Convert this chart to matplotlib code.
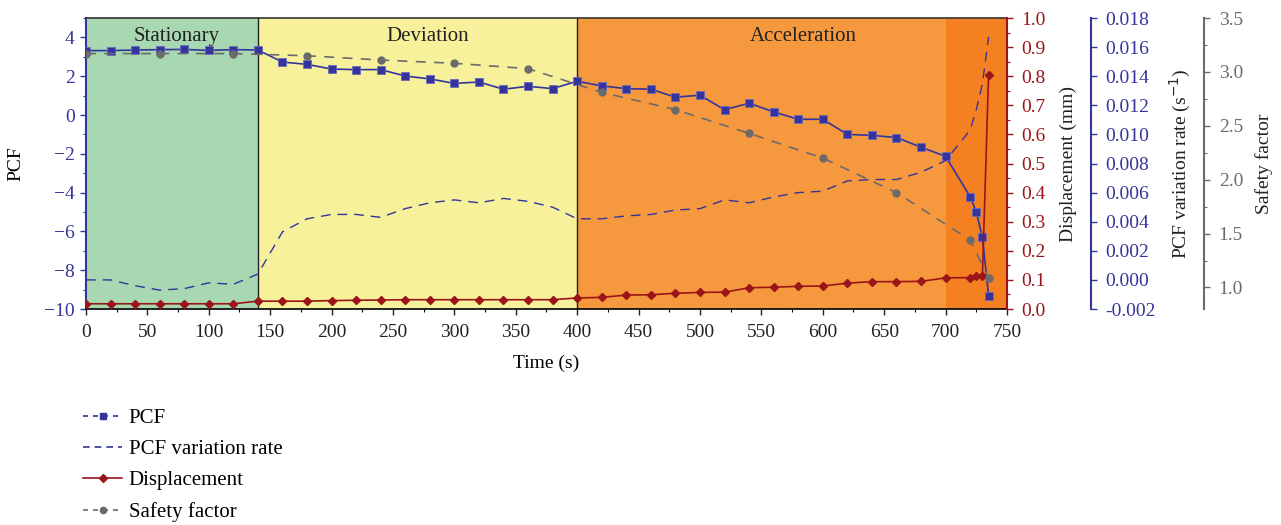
import numpy as np
import matplotlib
matplotlib.use('Agg')
import matplotlib.pyplot as plt
from matplotlib.lines import Line2D
from matplotlib.ticker import MultipleLocator

plt.rcParams['font.family'] = ['Liberation Serif', 'DejaVu Serif']
plt.rcParams['font.size'] = 14

# time stamps (s)
time = [0, 20, 40, 60, 80, 100, 120, 140, 160, 180, 200, 220, 240, 260, 280, 300,
        320, 340, 360, 380, 400, 420, 440, 460, 480, 500, 520, 540, 560, 580, 600,
        620, 640, 660, 680, 700, 720, 725, 730, 735]
pcf = [3.32, 3.32, 3.35, 3.37, 3.38, 3.33, 3.37, 3.35, 2.73, 2.61, 2.37, 2.34, 2.34,
       2.01, 1.86, 1.63, 1.70, 1.33, 1.48, 1.36, 1.74, 1.50, 1.36, 1.33, 0.92, 1.02,
       0.27, 0.61, 0.16, -0.22, -0.22, -1.00, -1.05, -1.16, -1.66, -2.13, -4.21,
       -5.00, -6.31, -9.32]
pcf_rate = [0.0000, 0.0000, -0.0004, -0.0007, -0.0006, -0.0002, -0.0003, 0.0004,
            0.0033, 0.0042, 0.0045, 0.0045, 0.0043, 0.0049, 0.0053, 0.0055, 0.0053,
            0.0056, 0.0054, 0.0050, 0.0042, 0.0042, 0.0044, 0.0045, 0.0048, 0.0049,
            0.0055, 0.0053, 0.0057, 0.0060, 0.0061, 0.0068, 0.0069, 0.0069, 0.0074,
            0.0082, 0.0103, 0.0117, 0.0135, 0.0167]
displacement = [0.018, 0.018, 0.018, 0.018, 0.018, 0.018, 0.018, 0.027, 0.027, 0.027,
                0.029, 0.030, 0.031, 0.032, 0.032, 0.032, 0.032, 0.032, 0.032, 0.032,
                0.038, 0.040, 0.048, 0.049, 0.054, 0.057, 0.058, 0.073, 0.075, 0.078,
                0.079, 0.089, 0.094, 0.094, 0.095, 0.107, 0.108, 0.112, 0.115, 0.805]
sf_time = [0, 60, 120, 180, 240, 300, 360, 420, 480, 540, 600, 660, 720, 735]
safety = [3.17, 3.17, 3.17, 3.15, 3.11, 3.08, 3.03, 2.81, 2.65, 2.43, 2.20, 1.88, 1.44, 1.09]

# stages
stages = ['Stationary', 'Deviation', 'Acceleration']
stage_bounds = [0, 140, 400, 700, 750]
stage_colors = ['#a8d8b2', '#f6f19a', '#f5983e', '#f48022']

blue = '#34349c'
red = '#9b1418'
gray = '#6b6b6b'

fig = plt.figure(figsize=(12.81, 5.25), dpi=100)
ax = fig.add_axes([0.0671, 0.4114, 0.719, 0.5543])

for i in range(4):
    ax.axvspan(stage_bounds[i], stage_bounds[i + 1], color=stage_colors[i], lw=0, zorder=0)
for b in stage_bounds[1:3]:
    ax.axvline(b, color='#222222', lw=1.0, zorder=1)
label_x = [74, 278, 584]
for name, lx in zip(stages, label_x):
    ax.text(lx, 0.935, name, transform=ax.get_xaxis_transform(), ha='center', va='center',
            fontsize=15, color='#222222')

ax.plot(time, pcf, color=blue, lw=1.2, marker='s', ms=5.5, mfc=blue, mec='#6a6ab8',
        mew=0.6, zorder=5)
ax.set_xlim(0, 750)
ax.set_ylim(-10, 5)
ax.set_yticks(np.arange(-10, 5, 2))
ax.yaxis.set_minor_locator(MultipleLocator(1))
ax.xaxis.set_major_locator(MultipleLocator(50))
ax.xaxis.set_minor_locator(MultipleLocator(25))
ax.set_xlabel('Time (s)', fontsize=14, labelpad=10)
ax.set_ylabel('PCF', fontsize=14, labelpad=14)
ax.tick_params(axis='y', colors=blue, which='both', labelsize=14)
ax.tick_params(axis='x', colors='#222222', labelsize=14, pad=6)
ax.tick_params(which='major', direction='out', length=4.5, width=1)
ax.tick_params(which='minor', direction='out', length=2.5, width=0.8)
ax.spines['left'].set_color(blue)
ax.spines['left'].set_linewidth(1.5)
ax.spines['bottom'].set_linewidth(1.2)
ax.spines['top'].set_linewidth(1.2)
ax.spines['top'].set_color('#333333')
ax.spines['right'].set_visible(False)

ax2 = ax.twinx()
ax2.plot(time, displacement, color=red, lw=1.2, marker='D', ms=4.5, zorder=5)
ax2.set_ylim(0, 1.0)
ax2.yaxis.set_major_locator(MultipleLocator(0.1))
ax2.yaxis.set_minor_locator(MultipleLocator(0.05))
ax2.set_ylabel('Displacement (mm)', fontsize=14, labelpad=10)
ax2.tick_params(axis='y', colors=red, which='both', labelsize=14, pad=6)
ax2.tick_params(which='major', direction='out', length=4.5, width=1)
ax2.tick_params(which='minor', direction='out', length=2.5, width=0.8)
ax2.spines['right'].set_color(red)
ax2.spines['right'].set_linewidth(1.5)
for s in ['left', 'top', 'bottom']:
    ax2.spines[s].set_visible(False)

ax3 = ax.twinx()
ax3.spines['right'].set_position(('axes', 1.091))
ax3.plot(time, pcf_rate, color=blue, lw=1.0, ls=(0, (7, 5)), zorder=4)
ax3.set_ylim(-0.002, 0.018)
ax3.set_yticks(np.arange(-0.002, 0.0181, 0.002))
ax3.yaxis.set_major_formatter(matplotlib.ticker.FormatStrFormatter('%.3f'))
ax3.set_ylabel('PCF variation rate (s$^{-1}$)', fontsize=14, labelpad=9)
ax3.tick_params(axis='y', colors=blue, labelsize=14, direction='out', length=4.5,
                width=1, pad=6)
ax3.spines['right'].set_color(blue)
ax3.spines['right'].set_linewidth(1.5)
for s in ['left', 'top', 'bottom']:
    ax3.spines[s].set_visible(False)

ax4 = ax.twinx()
ax4.spines['right'].set_position(('axes', 1.214))
ax4.plot(sf_time, safety, color=gray, lw=1.2, ls=(0, (6, 5)), marker='o', ms=5, zorder=4)
ax4.set_ylim(0.8, 3.5)
ax4.set_yticks([1.0, 1.5, 2.0, 2.5, 3.0, 3.5])
ax4.yaxis.set_minor_locator(MultipleLocator(0.25))
ax4.set_ylabel('Safety factor', fontsize=14, labelpad=9)
ax4.tick_params(axis='y', colors=gray, which='both', labelsize=14, pad=6)
ax4.tick_params(which='major', direction='out', length=4.5, width=1)
ax4.tick_params(which='minor', direction='out', length=2.5, width=0.8)
ax4.spines['right'].set_color(gray)
ax4.spines['right'].set_linewidth(1.5)
for s in ['left', 'top', 'bottom']:
    ax4.spines[s].set_visible(False)

for a in (ax2, ax3, ax4):
    a.yaxis.label.set_color('#222222')

handles = [
    Line2D([], [], color=blue, ls=(0, (3, 3)), lw=1.2, marker='s', ms=4.5),
    Line2D([], [], color=blue, ls=(0, (4, 3)), lw=1.2),
    Line2D([], [], color=red, ls='-', lw=1.2, marker='D', ms=4),
    Line2D([], [], color=gray, ls=(0, (3, 3)), lw=1.2, marker='o', ms=4.5),
]
labels = ['PCF', 'PCF variation rate', 'Displacement', 'Safety factor']
fig.legend(handles, labels, loc='upper left', bbox_to_anchor=(0.05, 0.257),
           frameon=False, fontsize=15, handlelength=1.9, handletextpad=0.3,
           labelspacing=0.55, numpoints=1)

fig.savefig('out.png', dpi=100)
